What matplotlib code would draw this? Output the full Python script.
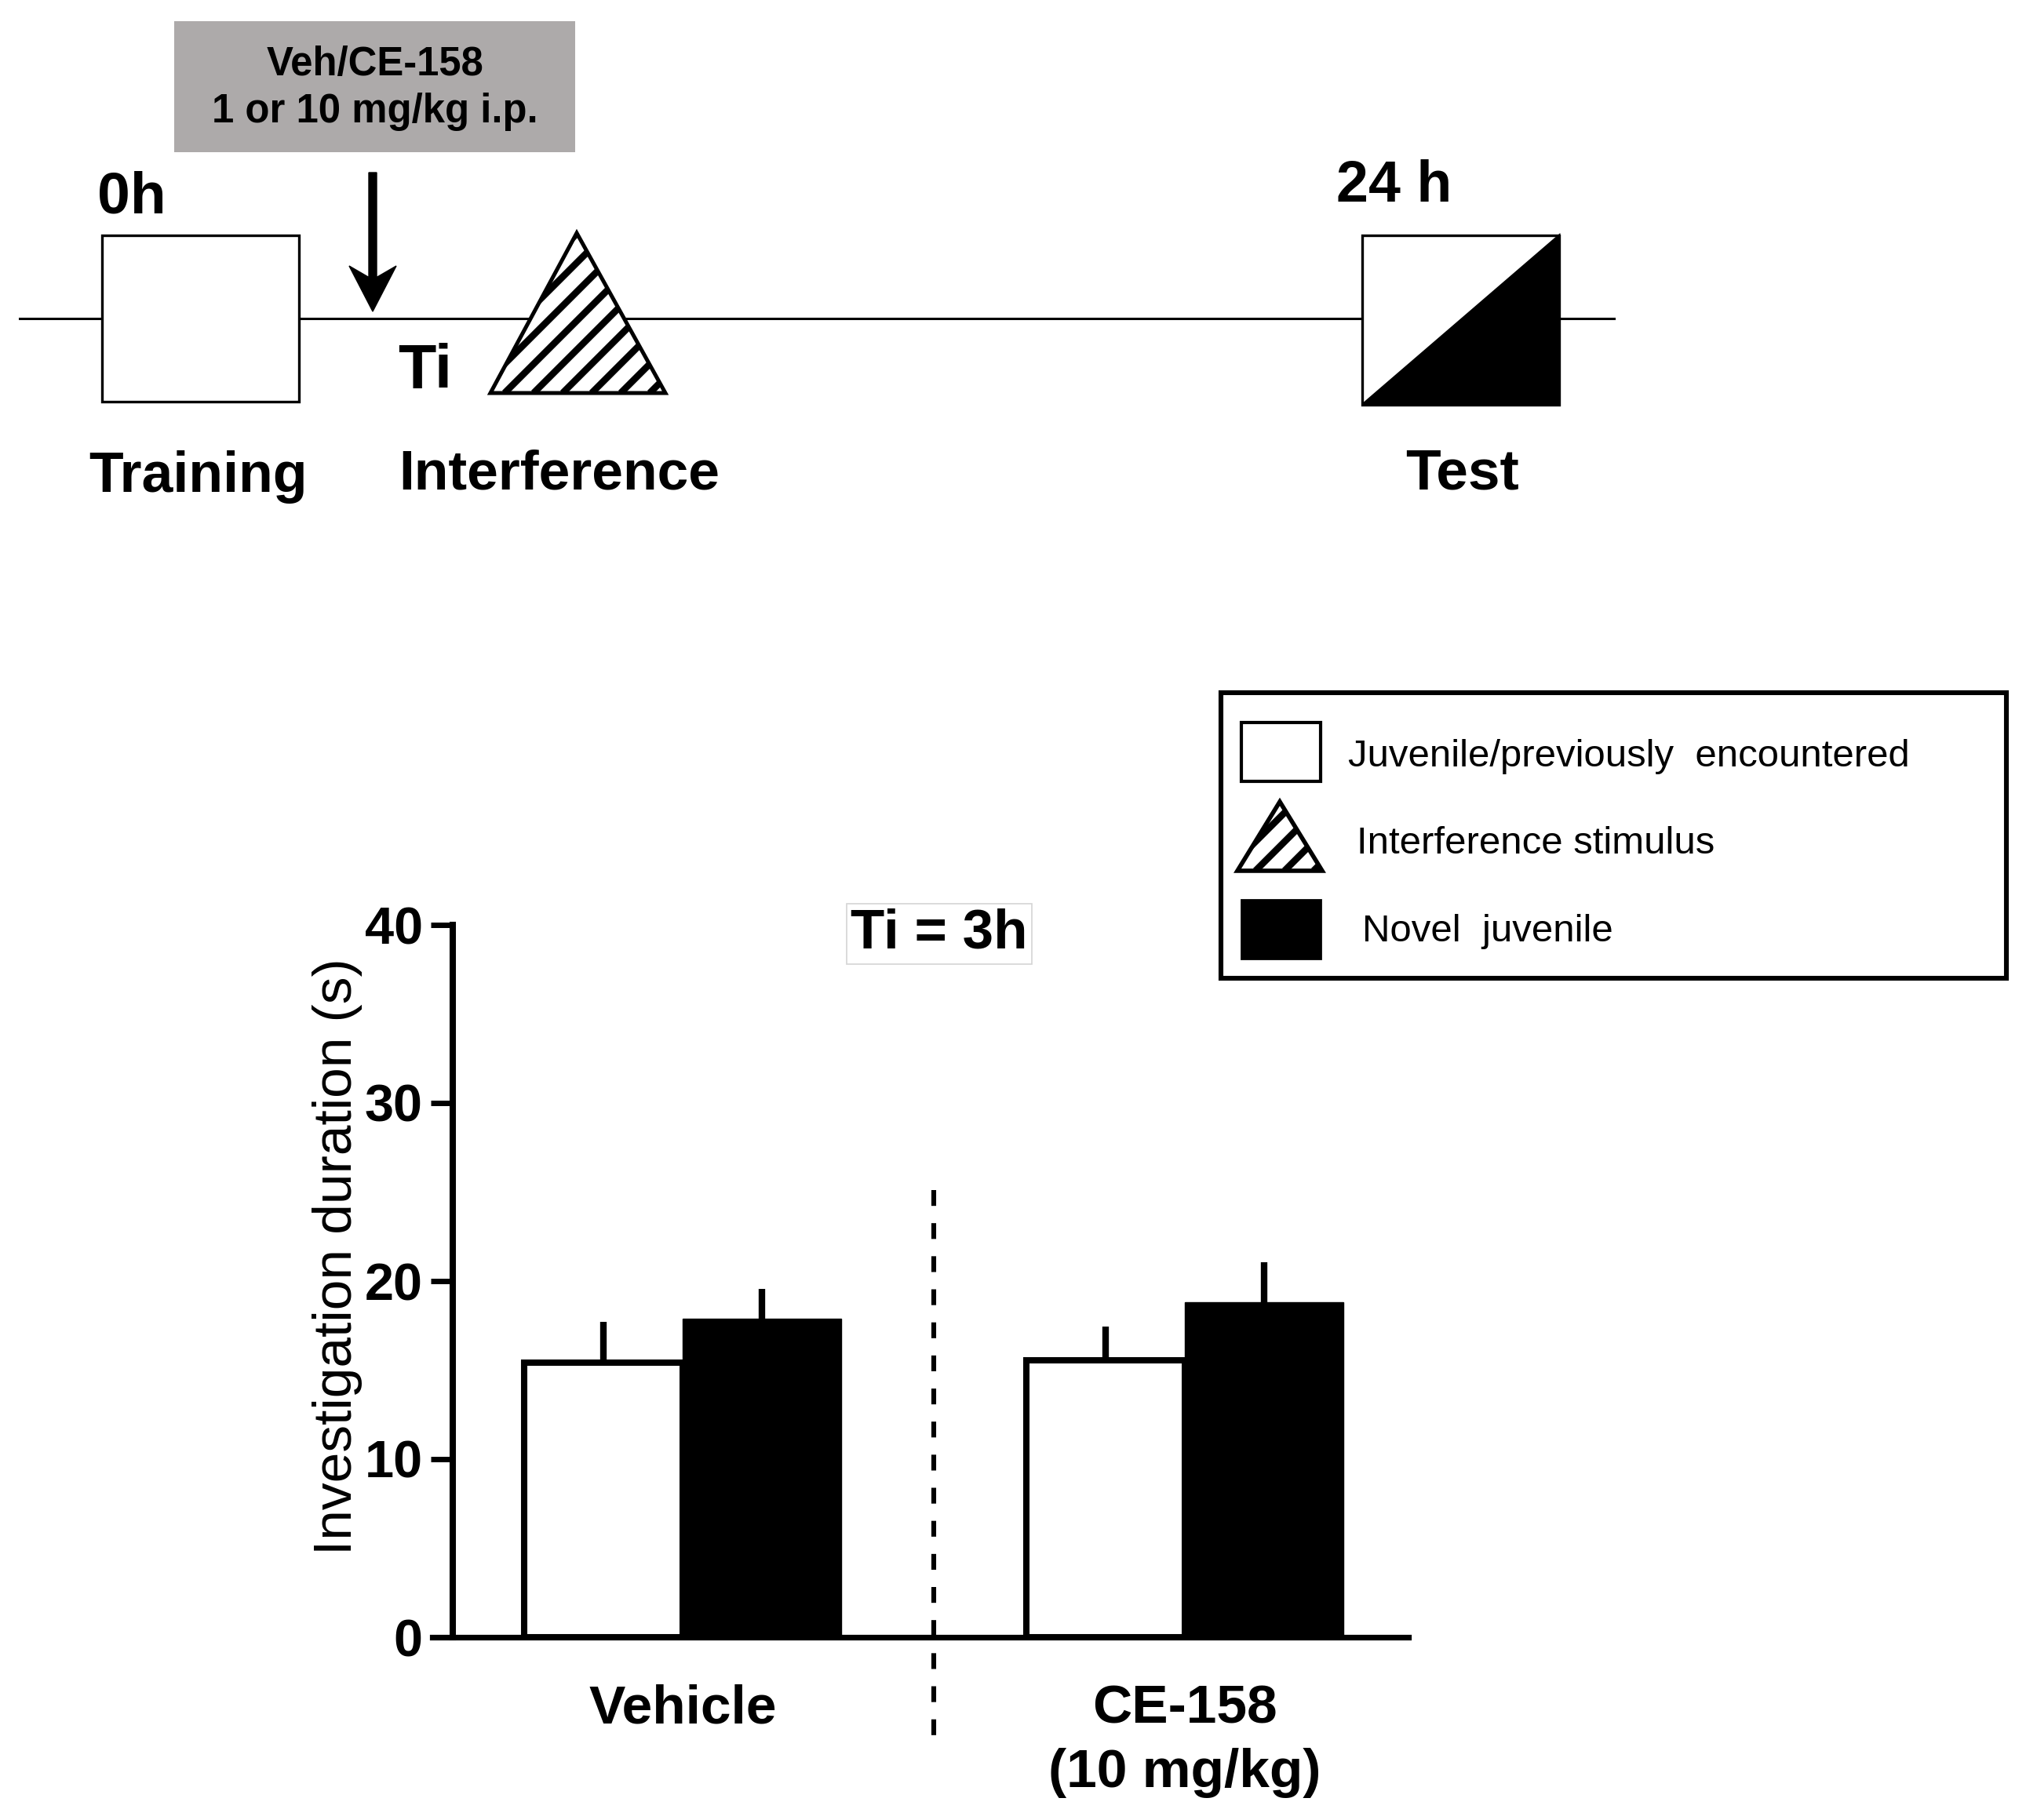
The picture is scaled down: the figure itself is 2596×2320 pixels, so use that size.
import matplotlib
matplotlib.use("Agg")
import matplotlib.pyplot as plt
import matplotlib.patches as mpatches
import numpy as np

# ── Data ───────────────────────────────────────────────────────────────────
groups = ["Vehicle", "CE-158\n(10 mg/kg)"]
familiar_mean = [15.4, 15.55]      # juvenile / previously encountered
familiar_sem = [2.3, 1.9]
novel_mean = [17.9, 18.8]          # novel juvenile
novel_sem = [1.65, 2.25]
y_ticks = [0, 10, 20, 30, 40]

legend_labels = ["Juvenile/previously  encountered",
                 "Interference stimulus",
                 "Novel  juvenile"]

# ── Canvas ─────────────────────────────────────────────────────────────────
W, H, DPI = 2596, 2320, 200
plt.rcParams["font.family"] = ["Liberation Sans", "DejaVu Sans"]

fig = plt.figure(figsize=(W / DPI, H / DPI), dpi=DPI, facecolor="white")


def hatched_triangle(ax, apex, x0, x1, yb, spacing=37, angle=45,
                     lw_stripe=3.1, lw_edge=1.8):
    """White triangle with '///' stripes, in pixel coords (y down)."""
    pts = [(x0, yb), apex, (x1, yb)]
    tri = mpatches.Polygon(pts, closed=True, fc="white", ec="none", zorder=3)
    ax.add_patch(tri)
    h = yb - apex[1]
    a = np.deg2rad(angle)
    L = 2 * h / np.sin(a)
    for c in np.arange(x0 - h / np.tan(a) - spacing, x1 + spacing, spacing):
        ax.plot([c, c + L * np.cos(a)], [yb, yb - L * np.sin(a)],
                color="black", lw=lw_stripe, solid_capstyle="butt",
                clip_path=tri, zorder=4)
    ax.add_patch(mpatches.Polygon(pts, closed=True, fill=False, ec="black",
                                  lw=lw_edge, joinstyle="miter", zorder=5))


# ── Bar chart ──────────────────────────────────────────────────────────────
ax = fig.add_axes([551 / W, 1 - 2087 / H, (1795 - 551) / W, (2087 - 1179) / H])
ax.set_facecolor("none")

x = np.arange(len(groups))
bw = 0.316
ax.errorbar(x - bw / 2, familiar_mean, yerr=[np.zeros(len(x)), familiar_sem],
            fmt="none", ecolor="black", elinewidth=3, capsize=0, zorder=1)
ax.errorbar(x + bw / 2, novel_mean, yerr=[np.zeros(len(x)), novel_sem],
            fmt="none", ecolor="black", elinewidth=3, capsize=0, zorder=1)
ax.bar(x - bw / 2, familiar_mean, bw, color="white", edgecolor="black",
       linewidth=2.9, zorder=2)
ax.bar(x + bw / 2, novel_mean, bw, color="black", edgecolor="black",
       linewidth=0.5, zorder=3)

# dashed separator between the two treatments
mid = (x[0] + x[1]) / 2
ax.plot([mid, mid], [25.1, -5.7], color="black", lw=2.2,
        linestyle=(0, (3.3, 3.6)), clip_on=False, zorder=4)

ax.set_xlim(-0.498, 1.445)
ax.set_ylim(0, 40)
ax.spines["left"].set_position(("data", -0.458))
ax.spines["left"].set_linewidth(2.9)
ax.spines["bottom"].set_linewidth(2.6)
for s in ["top", "right"]:
    ax.spines[s].set_visible(False)

ax.set_yticks(y_ticks)
ax.set_yticklabels([str(t) for t in y_ticks], fontsize=24, fontweight="bold")
ax.tick_params(axis="y", direction="out", length=10, width=2.5, pad=3.6)
ax.set_xticks(x)
ax.set_xticklabels(groups, fontsize=25, fontweight="bold", linespacing=1.35)
ax.tick_params(axis="x", length=0, pad=21.5)

ax.set_ylabel("Investigation duration (s)", fontsize=25)
ax.yaxis.set_label_coords(-0.0715, 0.534)

ax.text(0.511, 39.5, "Ti = 3h", ha="center", va="center", fontsize=25.5,
        fontweight="bold", zorder=5,
        bbox=dict(boxstyle="square,pad=0.08", fc="white", ec="#d4d4d4", lw=0.6))

# ── Overlay: timeline schematic + legend (pixel coords) ────────────────────
ov = fig.add_axes([0, 0, 1, 1], zorder=5)
ov.set_xlim(0, W)
ov.set_ylim(H, 0)
ov.axis("off")
ov.patch.set_alpha(0)

bold = dict(fontweight="bold", color="black")

ov.plot([25, 2057], [406, 406], color="black", lw=1.1, zorder=1)

# training box
ov.add_patch(mpatches.Rectangle((130, 300), 251, 212, fc="white", ec="black",
                                lw=1.2, zorder=3))
ov.text(124, 271, "0h", fontsize=27, ha="left", va="baseline", **bold)
ov.text(252, 627, "Training", fontsize=25.8, ha="center", va="baseline", **bold)

# injection box + arrow
ov.add_patch(mpatches.Rectangle((222, 27), 511, 167, fc="#ADAAAA", ec="none",
                                zorder=2))
ov.text(478, 96, "Veh/CE-158", fontsize=18.3, ha="center", va="baseline", **bold)
ov.text(478, 156, "1 or 10 mg/kg i.p.", fontsize=18.3, ha="center",
        va="baseline", **bold)
ov.add_patch(mpatches.FancyArrow(475, 220, 0, 177, width=10, head_width=60,
                                 head_length=58, length_includes_head=True,
                                 overhang=0.25, fc="black", ec="black", lw=0.5,
                                 zorder=3))

# interference
ov.text(507, 495, "Ti", fontsize=28.5, ha="left", va="baseline", **bold)
hatched_triangle(ov, (735, 297), 625, 848, 501)
ov.text(713, 624, "Interference", fontsize=25.7, ha="center", va="baseline",
        **bold)

# test box
ov.add_patch(mpatches.Rectangle((1736, 300), 251, 216, fc="white", ec="black",
                                lw=1.2, zorder=3))
ov.add_patch(mpatches.Polygon([(1736, 516), (1987, 300), (1987, 516)],
                              closed=True, fc="black", ec="black", lw=1,
                              zorder=4))
ov.text(1703, 257, "24 h", fontsize=26.5, ha="left", va="baseline", **bold)
ov.text(1864, 623, "Test", fontsize=26.3, ha="center", va="baseline", **bold)

# legend
ov.add_patch(mpatches.Rectangle((1556, 883), 1001, 364, fill=False, ec="black",
                                lw=2.2, zorder=3))
ov.add_patch(mpatches.Rectangle((1582, 921), 101, 75, fc="white", ec="black",
                                lw=1.5, zorder=3))
hatched_triangle(ov, (1631, 1022), 1577, 1685, 1110, lw_edge=2.0)
ov.add_patch(mpatches.Rectangle((1582, 1147), 101, 75, fc="black", ec="black",
                                lw=1, zorder=3))
for (lx, ly), lab in zip([(1718, 977), (1729, 1088), (1736, 1200)],
                         legend_labels):
    ov.text(lx, ly, lab, fontsize=17.7, ha="left", va="baseline", color="black")

fig.savefig("out.png", dpi=DPI, facecolor="white")
